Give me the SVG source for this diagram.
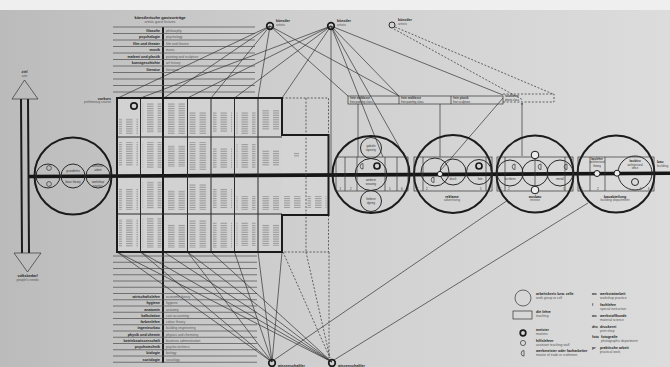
<svg xmlns="http://www.w3.org/2000/svg" width="670" height="367" viewBox="0 0 670 367">
<defs>
<linearGradient id="bg" x1="0" y1="0" x2="1" y2="0">
<stop offset="0" stop-color="#bbbbbb"/><stop offset="0.45" stop-color="#cfcfcf"/><stop offset="1" stop-color="#dcdcdc"/>
</linearGradient>
<pattern id="tx" width="10.5" height="1.8" patternUnits="userSpaceOnUse"><rect width="6.5" height="0.6" fill="#707070"/><rect y="0.9" width="4.5" height="0.001" fill="none"/></pattern>
<marker id="ar" viewBox="0 0 10 10" refX="9" refY="5" markerWidth="4" markerHeight="4" orient="auto"><path d="M0,0 L9,5 L0,10" fill="none" stroke="#333" stroke-width="2"/></marker>
<style>
text{font-family:"Liberation Sans",Arial,sans-serif}
.b{font-size:3.6px;font-weight:bold;fill:#222}
.g{font-size:3.3px;fill:#555}
.h{font-size:4px;font-weight:bold;fill:#222}
.r{text-anchor:end}
.m{text-anchor:middle}
.n{font-size:2.8px;fill:#333}
.ln{stroke:#5a5a5a;stroke-width:0.8;fill:none}
.th{stroke:#333;stroke-width:0.7;fill:none}
.md{stroke:#2a2a2a;stroke-width:1;fill:none}
.tk{stroke:#1b1b1b;stroke-width:2;fill:none}
.ds{stroke:#444;stroke-width:0.8;fill:none;stroke-dasharray:2 1.6}
.ring{stroke:#1b1b1b;stroke-width:1.7;fill:none}
.wn{stroke:#1b1b1b;stroke-width:1;fill:#eee}
.tx{fill:url(#tx);opacity:0.85}
</style>
</defs>
<rect width="670" height="367" fill="url(#bg)"/>
<rect width="670" height="10" fill="#efefef"/>
<rect x="117" y="98" width="165" height="154" fill="#d2d2d2"/>
<rect x="282" y="135" width="46.5" height="80" fill="#d4d4d4"/>

<g id="left-arrow">
<path class="tk" d="M21,99 L22,253 M28,99 L29,253"/>
<polygon class="th" points="24.5,80 12,99 38,99"/>
<polygon class="th" points="14,253 41,253 27.5,272"/>
<text class="b m" x="24.5" y="73">ziel</text>
<text class="g m" x="24.5" y="77">aim</text>
<text class="b m" x="27.5" y="277">volksbedarf</text>
<text class="g m" x="27.5" y="281">people's needs</text>
</g>

<g id="spine">
<path d="M29,176.5 L670,173.3" stroke="#161616" stroke-width="3.6" fill="none"/>
<path d="M163,27 V363" stroke="#1b1b1b" stroke-width="2" fill="none"/>
</g>

<g id="guest-lectures">
<text class="h m" x="160" y="19">künstlerische gastvorträge</text>
<text class="g m" x="160" y="23">artistic guest lectures</text>
<path class="ln" d="M113,27H255M113,33.5H255M113,40H255M113,46.5H255M113,53H255M113,59.5H255M113,66H255M113,72.5H255M113,79H255M113,85.5H255M113,92H255"/>
<text class="b r" x="160" y="31.6">filosofie</text><text class="g" x="166" y="31.6">philosophy</text>
<text class="b r" x="160" y="38.1">psychologie</text><text class="g" x="166" y="38.1">psychology</text>
<text class="b r" x="160" y="44.6">film und theater</text><text class="g" x="166" y="44.6">film and theatre</text>
<text class="b r" x="160" y="51.1">musik</text><text class="g" x="166" y="51.1">music</text>
<text class="b r" x="160" y="57.6">malerei und plastik</text><text class="g" x="166" y="57.6">painting and sculpture</text>
<text class="b r" x="160" y="64.1">kunstgeschichte</text><text class="g" x="166" y="64.1">art history</text>
<text class="b r" x="160" y="70.6">literatur</text><text class="g" x="166" y="70.6">literature</text>
</g>

<g id="science-lectures">
<path class="ln" d="M113,256H257M113,262.25H257M113,268.5H257M113,274.75H257M113,281H257M113,287.25H257M113,293.5H257M113,299.75H257M113,306H257M113,312.25H257M113,318.5H257M113,324.75H257M113,331H257M113,337.25H257M113,343.5H257M113,349.75H257M113,356H257M113,362.25H257"/>
<text class="b r" x="160" y="298">wirtschaftslehre</text><text class="g" x="166" y="298">economic theory</text>
<text class="b r" x="160" y="304.2">hygiene</text><text class="g" x="166" y="304.2">hygiene</text>
<text class="b r" x="160" y="310.5">anatomie</text><text class="g" x="166" y="310.5">anatomy</text>
<text class="b r" x="160" y="316.7">kalkulation</text><text class="g" x="166" y="316.7">cost accounting</text>
<text class="b r" x="160" y="323">farbenlehre</text><text class="g" x="166" y="323">colour theory</text>
<text class="b r" x="160" y="329.2">ingenieurbau</text><text class="g" x="166" y="329.2">building engineering</text>
<text class="b r" x="160" y="335.5">physik und chemie</text><text class="g" x="166" y="335.5">physics and chemistry</text>
<text class="b r" x="160" y="341.7">betriebswissenschaft</text><text class="g" x="166" y="341.7">business administration</text>
<text class="b r" x="160" y="348">psychotechnik</text><text class="g" x="166" y="348">psycho-technics</text>
<text class="b r" x="160" y="354.2">biologie</text><text class="g" x="166" y="354.2">biology</text>
<text class="b r" x="160" y="360.5">soziologie</text><text class="g" x="166" y="360.5">sociology</text>
</g>

<g id="connectors">
<path class="th" d="M270,26L118,98M270,26L164,98M270,26L211,98M270,26L258,98M331,26L140.5,98M331,26L187.5,98M331,26L234.5,98M331,26L282,98"/>
<path class="th" d="M270,26L348,96M270,26L399,96M331,26L399,96M331,26L503,95M331,26L383,157M331,26L405,157M331,29V174M503,98L440,171"/>
<path class="ds" d="M395,27L553,94M394,29L523,100"/>
<path class="th" marker-end="url(#ar)" d="M358,157V104M440,157V104M522,156V103"/>
<path class="th" d="M117,252L272,362M140.5,252L272,362M187.5,252L272,362M234.5,252L272,362M258,252L272,362M282,252L272,362"/>
<path class="th" d="M117,252L332,362M140.5,252L332,362M164,252L332,362M187.5,252L332,362M211,252L332,362"/>
<path class="ds" d="M283,252L330,358M306,252L330,358M329,252V358"/>
<path class="th" d="M274,360L508,200M334,360L588,203"/>
</g>

<g id="artists">
<circle class="ring" cx="270" cy="26" r="3.3"/>
<text class="b" x="276" y="22">künstler</text><text class="g" x="276" y="25.5">artists</text>
<circle class="ring" cx="331" cy="26" r="3.3"/>
<text class="b" x="337" y="22">künstler</text><text class="g" x="337" y="25.5">artists</text>
<circle class="md" cx="392" cy="25" r="3"/>
<text class="b" x="398" y="21">künstler</text><text class="g" x="398" y="24.5">artists</text>
</g>

<g id="scientists">
<circle class="ring" cx="272" cy="363" r="3.3"/>
<text class="b" x="278" y="366.5">wissenschaftler</text>
<circle class="ring" cx="332" cy="363" r="3.3"/>
<text class="b" x="338" y="366.5">wissenschaftler</text>
</g>

<g id="vorkurs">
<circle class="tk" cx="73" cy="176" r="38.5"/>
<circle class="md" cx="48" cy="176" r="12" stroke="#444"/>
<circle class="md" cx="73" cy="176" r="12" stroke="#444"/>
<circle class="md" cx="98" cy="176" r="12" stroke="#444"/>
<circle class="th" cx="49" cy="168" r="2.4"/>
<circle class="th" cx="49" cy="184" r="2.4"/>
<text class="n m" x="73" y="172">grundlehre</text>
<text class="n m" x="73" y="183">basic theory</text>
<text class="n m" x="98" y="167">werkstatt-</text>
<text class="n m" x="98" y="170.5">arbeit</text>
<text class="n m" x="98" y="183">workshop</text>
<text class="n m" x="98" y="186.5">practice</text>
<text class="b r" x="111" y="99.5">vorkurs</text>
<text class="g r" x="111" y="103">preliminary course</text>
</g>

<g id="lehre-grid">
<g>
<rect class="tx" x="119" y="118" width="19" height="16"/>
<rect class="tx" x="142.5" y="103" width="19" height="30"/>
<rect class="tx" x="166" y="103" width="19" height="31"/>
<rect class="tx" x="189.5" y="112" width="19" height="22"/>
<rect class="tx" x="213" y="112" width="19" height="20"/>
<rect class="tx" x="236.5" y="112" width="19" height="22"/>
<rect class="tx" x="260" y="110" width="19" height="20"/>
<rect class="tx" x="119" y="142" width="19" height="24"/>
<rect class="tx" x="142.5" y="142" width="19" height="26"/>
<rect class="tx" x="166" y="145" width="19" height="22"/>
<rect class="tx" x="189.5" y="142" width="19" height="28"/>
<rect class="tx" x="213" y="148" width="19" height="20"/>
<rect class="tx" x="236.5" y="144" width="19" height="24"/>
<rect class="tx" x="260" y="150" width="19" height="16"/>
<rect class="tx" x="291" y="152" width="8" height="5"/>
<rect class="tx" x="119" y="188" width="19" height="22"/>
<rect class="tx" x="142.5" y="181" width="19" height="28"/>
<rect class="tx" x="166" y="190" width="19" height="20"/>
<rect class="tx" x="189.5" y="184" width="19" height="26"/>
<rect class="tx" x="213" y="188" width="19" height="20"/>
<rect class="tx" x="236.5" y="196" width="19" height="14"/>
<rect class="tx" x="260" y="196" width="19" height="14"/>
<rect class="tx" x="284" y="196" width="19" height="12"/>
<rect class="tx" x="307.5" y="196" width="19" height="12"/>
<rect class="tx" x="119" y="219" width="19" height="28"/>
<rect class="tx" x="142.5" y="218" width="19" height="30"/>
<rect class="tx" x="166" y="224" width="19" height="24"/>
<rect class="tx" x="189.5" y="220" width="19" height="28"/>
<rect class="tx" x="213" y="222" width="19" height="26"/>
<rect class="tx" x="236.5" y="222" width="19" height="24"/>
<rect class="tx" x="260" y="224" width="19" height="22"/>
</g>
<path class="md" d="M140.5,98V252M187.5,98V252M211,98V252M234.5,98V252M258,98V252M117,137H282M117,214H282"/>
<path class="ds" d="M282,98H328.5V135M306,98V252M328.5,215V252H282"/>
<path class="tk" d="M117,98H282V135H328.5V215H282V252H117Z"/>
<circle class="ring" cx="134" cy="106" r="3.2"/>
</g>

<g id="free-classes">
<rect class="th" x="348" y="96" width="155" height="8"/>
<path class="th" d="M399,96V104M451,96V104"/>
<text class="n" x="350" y="99.3" font-weight="bold">freie malklasse</text><text class="n" x="350" y="102.8">free painting class</text>
<text class="n" x="401" y="99.3" font-weight="bold">freie malklasse</text><text class="n" x="401" y="102.8">free painting class</text>
<text class="n" x="453" y="99.3" font-weight="bold">freie plastik</text><text class="n" x="453" y="102.8">free sculpture</text>
<path class="ds" d="M503,94H554V102H503"/>
<text class="n" x="505" y="97.3" font-weight="bold">fotoklasse</text><text class="n" x="505" y="100.8">photo class</text>
</g>

<g id="weberei">
<circle class="tk" cx="371" cy="174.5" r="38.5"/>
<rect class="th" x="336" y="157" width="72" height="34"/>
<path class="th" d="M345,157V191M357,157V191M385,157V191M397,157V191"/>
<circle class="md" cx="371" cy="148" r="10.5" fill="#d6d6d6"/>
<circle class="md" cx="371" cy="174.5" r="16"/>
<circle class="md" cx="371" cy="201" r="10.5" fill="#d6d6d6"/>
<text class="n m" x="371" y="147">gobelin</text><text class="n m" x="371" y="150.5">tapestry</text>
<text class="n m" x="371" y="181">weberei</text><text class="n m" x="371" y="184.5">weaving</text>
<text class="n m" x="371" y="200">färberei</text><text class="n m" x="371" y="203.5">dyeing</text>
<circle class="ring" cx="377" cy="166" r="3"/>
<path class="th" d="M363,163.5A2.8,2.8 0 0 0 363,169.1Z"/>
<text class="n" x="339.5" y="189.5">1</text><text class="n" x="350" y="189.5">2</text><text class="n" x="389" y="189.5">5</text><text class="n" x="401" y="189.5">6</text>
</g>

<g id="reklame">
<circle class="tk" cx="453" cy="174" r="39"/>
<rect class="th" x="414" y="157" width="78" height="34"/>
<path class="th" d="M423,157V191M486,157V191"/>
<circle class="md" cx="435" cy="172" r="14"/>
<circle class="md" cx="453" cy="172" r="13"/>
<circle class="md" cx="479" cy="172" r="12.5"/>
<circle class="wn" cx="440" cy="174" r="2.6"/>
<circle class="ring" cx="479" cy="166" r="3"/>
<path class="th" d="M434,177A2.8,2.8 0 0 0 434,182.6Z"/>
<text class="n m" x="453" y="180">druck</text>
<text class="n m" x="480" y="180">foto</text>
<text class="n" x="417" y="189.5">1</text><text class="n" x="426" y="189.5">2</text><text class="n" x="480" y="189.5">5</text><text class="n" x="488" y="189.5">6</text>
<text class="b m" x="452" y="197.5">reklame</text>
<text class="g m" x="452" y="201.3">advertising</text>
</g>

<g id="ausbau">
<circle class="tk" cx="535" cy="174" r="38.5"/>
<rect class="th" x="497" y="157" width="76" height="34"/>
<path class="th" d="M505,157V191M565,157V191"/>
<circle class="md" cx="510" cy="173" r="13"/>
<circle class="md" cx="535" cy="173" r="13"/>
<circle class="md" cx="560" cy="173" r="13"/>
<circle class="wn" cx="535" cy="155" r="3.8"/>
<circle class="wn" cx="535" cy="190" r="3.8"/>
<path class="th" d="M535,159V186"/>
<path class="th" d="M515,164A2.8,2.8 0 0 0 515,169.6ZM541,164A2.8,2.8 0 0 0 541,169.6ZM567,164A2.8,2.8 0 0 0 567,169.6Z"/>
<text class="n m" x="510" y="180">tischlerei</text>
<text class="n m" x="560" y="180">metall</text>
<text class="n" x="500" y="189.5">1</text><text class="n" x="508" y="189.5">2</text><text class="n" x="563" y="189.5">5</text><text class="n" x="569" y="189.5">6</text>
<text class="b m" x="535" y="197.5">ausbau</text>
<text class="g m" x="535" y="201.3">interior</text>
</g>

<g id="bauabteilung">
<circle class="tk" cx="616" cy="174" r="38.5"/>
<rect class="th" x="578" y="157" width="76" height="34"/>
<path class="th" d="M590,157V191M605,157V191"/>
<circle class="md" cx="635" cy="173" r="17"/>
<text class="n m" x="597" y="159.5" font-weight="bold">baulehre</text>
<text class="n m" x="597" y="163">architectural</text>
<text class="n m" x="597" y="166.5">theory</text>
<text class="n m" x="635" y="162" font-weight="bold">baubüro</text>
<text class="n m" x="635" y="165.5">architectural</text>
<text class="n m" x="635" y="169">office</text>
<circle class="md" cx="635" cy="182" r="3.5"/>
<circle class="wn" cx="597" cy="173.5" r="3"/>
<circle class="wn" cx="617" cy="173.2" r="3"/>
<text class="n" x="581" y="189.5">1</text><text class="n" x="597" y="189.5">2</text><text class="n" x="640" y="189.5">5</text><text class="n" x="648" y="189.5">6</text>
<text class="b m" x="615" y="197.5">bauabteilung</text>
<text class="g m" x="615" y="201.3">building department</text>
<text class="b" x="657" y="163">bau</text>
<text class="g" x="657" y="167">building</text>
</g>

<g id="legend">
<circle class="th" cx="523" cy="298" r="8"/>
<text class="b" x="536" y="295">arbeitskreis bzw. zelle</text><text class="g" x="536" y="299">work group or cell</text>
<rect class="th" x="513" y="311" width="19" height="8"/>
<text class="b" x="536" y="313">die lehre</text><text class="g" x="536" y="317">teaching</text>
<circle class="ring" cx="523" cy="333" r="2.8"/>
<text class="b" x="536" y="331">meister</text><text class="g" x="536" y="335">masters</text>
<circle class="th" cx="523" cy="343" r="2.6"/>
<text class="b" x="536" y="342">hilfslehrer</text><text class="g" x="536" y="346">assistant teaching staff</text>
<path class="th" d="M524,350.5A2.8,2.8 0 0 0 524,356.1Z"/>
<text class="b" x="536" y="352">werkmeister oder facharbeiter</text><text class="g" x="536" y="356">master of trade or craftsmen</text>
<text class="b" x="592" y="295">ws</text><text class="b" x="600" y="295">werkstattarbeit</text><text class="g" x="600" y="299">workshop practice</text>
<text class="b" x="592" y="306">f</text><text class="b" x="600" y="306">fachlehre</text><text class="g" x="600" y="310">special instruction</text>
<text class="b" x="592" y="317">ws</text><text class="b" x="600" y="317">werkstoffkunde</text><text class="g" x="600" y="321">material science</text>
<text class="b" x="592" y="328">dru</text><text class="b" x="600" y="328">druckerei</text><text class="g" x="600" y="332">print shop</text>
<text class="b" x="592" y="338">foto</text><text class="b" x="601" y="338">fotografie</text><text class="g" x="601" y="342">photographic department</text>
<text class="b" x="592" y="349">pr</text><text class="b" x="600" y="349">praktische arbeit</text><text class="g" x="600" y="353">practical work</text>
</g>
</svg>
